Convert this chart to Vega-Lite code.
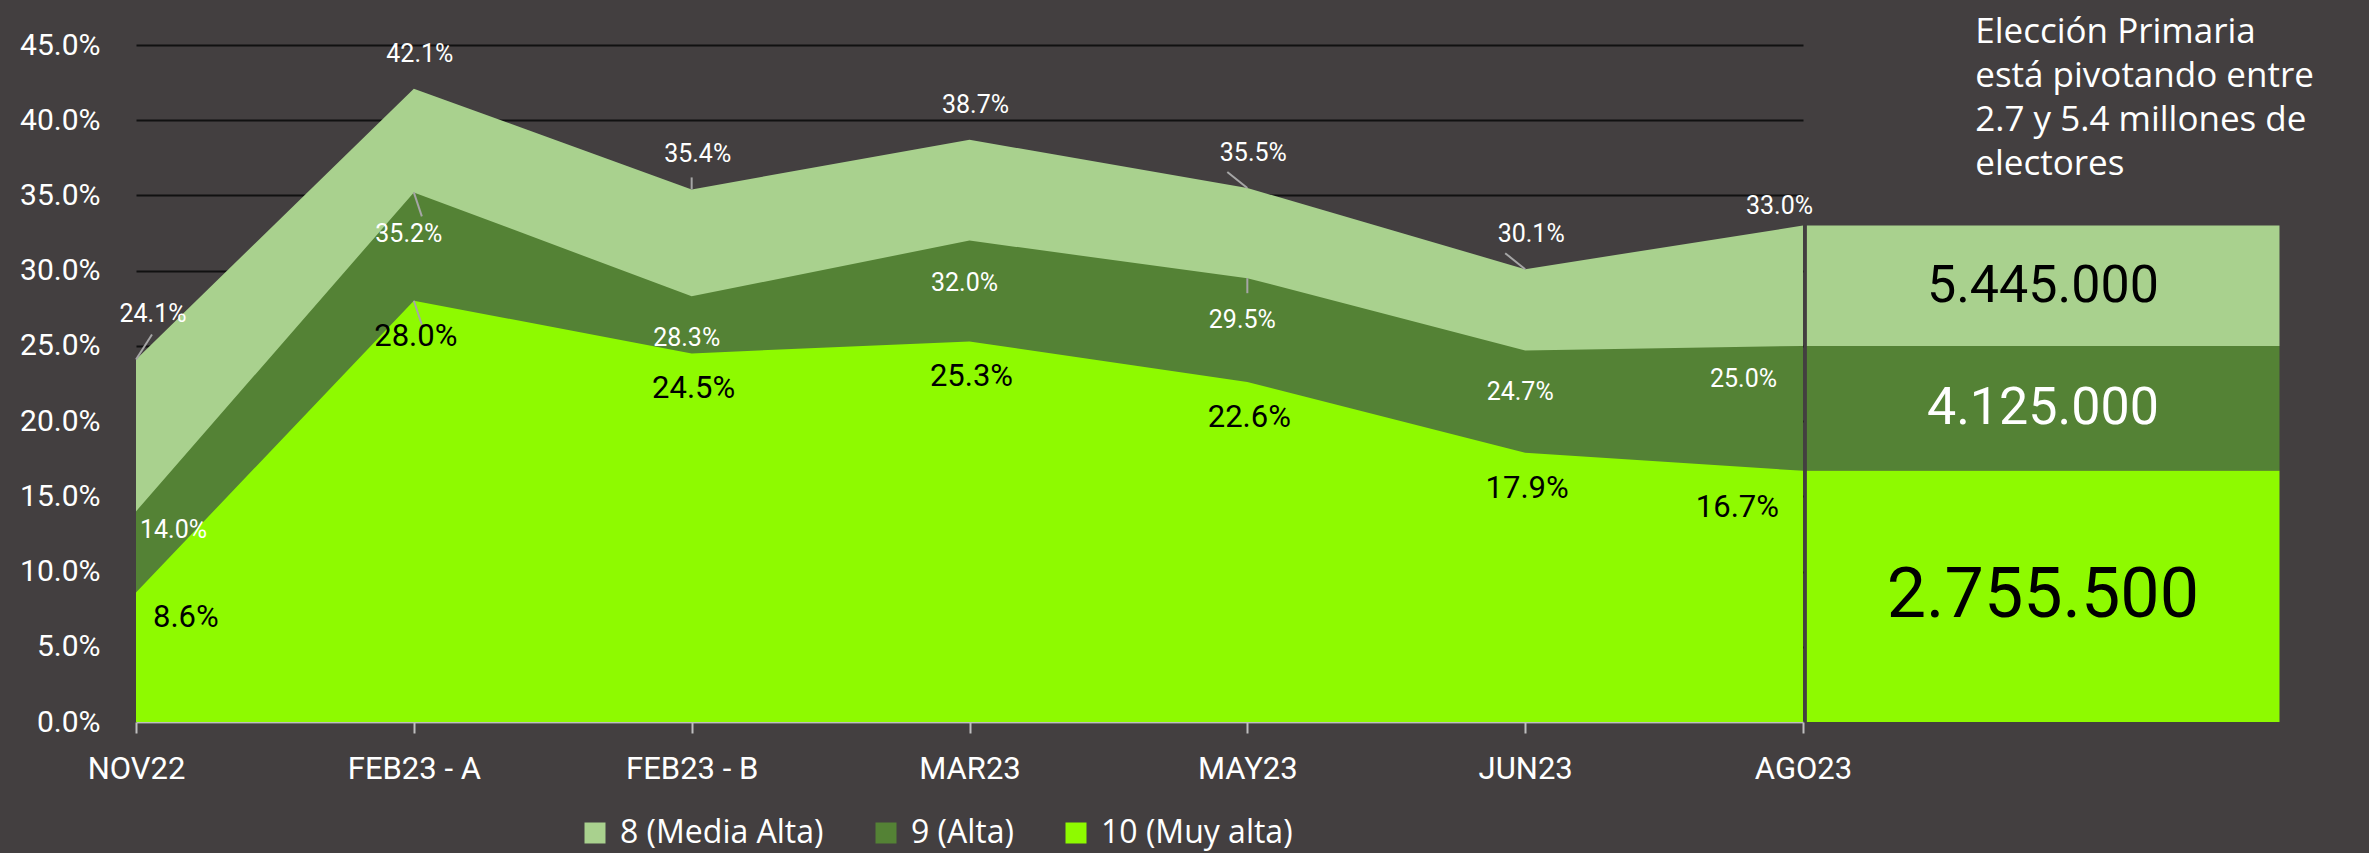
{
  "$schema": "https://vega.github.io/schema/vega-lite/v6.json",
  "autosize": {"type": "none"},
  "width": 1667,
  "height": 677,
  "padding": {"left": 136, "top": 45, "right": 566, "bottom": 131},
  "background": "#433f40",
  "config": {
    "view": {"stroke": null},
    "axisX": {"domainColor": "#bfbfbf", "domainWidth": 2, "tickColor": "#bfbfbf", "tickWidth": 2, "tickSize": 11, "labelFontSize": 31, "labelFont": "Roboto", "labelColor": "#ffffff", "labelPadding": 21, "labelFlush": false, "grid": false},
    "axisY": {"domain": false, "ticks": false, "gridColor": "#111111", "gridWidth": 2, "labelFontSize": 30, "labelFont": "Roboto", "labelColor": "#ffffff", "labelPadding": 36}
  },
  "datasets": {
    "serie": [
      {"mes": "NOV22", "i": 0, "nivel": "8 (Media Alta)", "valor": 0.241},
      {"mes": "FEB23 - A", "i": 1, "nivel": "8 (Media Alta)", "valor": 0.421},
      {"mes": "FEB23 - B", "i": 2, "nivel": "8 (Media Alta)", "valor": 0.354},
      {"mes": "MAR23", "i": 3, "nivel": "8 (Media Alta)", "valor": 0.387},
      {"mes": "MAY23", "i": 4, "nivel": "8 (Media Alta)", "valor": 0.355},
      {"mes": "JUN23", "i": 5, "nivel": "8 (Media Alta)", "valor": 0.301},
      {"mes": "AGO23", "i": 6, "nivel": "8 (Media Alta)", "valor": 0.330},
      {"mes": "NOV22", "i": 0, "nivel": "9 (Alta)", "valor": 0.140},
      {"mes": "FEB23 - A", "i": 1, "nivel": "9 (Alta)", "valor": 0.352},
      {"mes": "FEB23 - B", "i": 2, "nivel": "9 (Alta)", "valor": 0.283},
      {"mes": "MAR23", "i": 3, "nivel": "9 (Alta)", "valor": 0.320},
      {"mes": "MAY23", "i": 4, "nivel": "9 (Alta)", "valor": 0.295},
      {"mes": "JUN23", "i": 5, "nivel": "9 (Alta)", "valor": 0.247},
      {"mes": "AGO23", "i": 6, "nivel": "9 (Alta)", "valor": 0.250},
      {"mes": "NOV22", "i": 0, "nivel": "10 (Muy alta)", "valor": 0.086},
      {"mes": "FEB23 - A", "i": 1, "nivel": "10 (Muy alta)", "valor": 0.280},
      {"mes": "FEB23 - B", "i": 2, "nivel": "10 (Muy alta)", "valor": 0.245},
      {"mes": "MAR23", "i": 3, "nivel": "10 (Muy alta)", "valor": 0.253},
      {"mes": "MAY23", "i": 4, "nivel": "10 (Muy alta)", "valor": 0.226},
      {"mes": "JUN23", "i": 5, "nivel": "10 (Muy alta)", "valor": 0.179},
      {"mes": "AGO23", "i": 6, "nivel": "10 (Muy alta)", "valor": 0.167}
    ],
    "caja": [
      {"nivel": "8 (Media Alta)", "desde": 0.250, "hasta": 0.330, "electores": "5.445.000"},
      {"nivel": "9 (Alta)", "desde": 0.167, "hasta": 0.250, "electores": "4.125.000"},
      {"nivel": "10 (Muy alta)", "desde": 0.0, "hasta": 0.167, "electores": "2.755.500"}
    ]
  },
  "layer": [
    {
      "data": {"name": "serie"},
      "transform": [{"filter": "datum.nivel == '8 (Media Alta)'"}],
      "mark": {"type": "area", "line": false, "clip": false},
      "encoding": {
        "x": {"field": "i", "type": "quantitative", "title": null,
              "scale": {"domain": [0, 6], "nice": false, "zero": false},
              "axis": {"values": [0, 1, 2, 3, 4, 5, 6], "labelExpr": "['NOV22','FEB23 - A','FEB23 - B','MAR23','MAY23','JUN23','AGO23'][datum.value]"}},
        "y": {"field": "valor", "type": "quantitative", "title": null, "stack": null,
              "scale": {"domain": [0, 0.45], "nice": false},
              "axis": {"values": [0, 0.05, 0.1, 0.15, 0.2, 0.25, 0.3, 0.35, 0.4, 0.45], "format": ".1%"}},
        "color": {"field": "nivel", "type": "nominal",
                  "scale": {"domain": ["8 (Media Alta)", "9 (Alta)", "10 (Muy alta)"], "range": ["#a9d18e", "#548235", "#8efa00"]},
                  "legend": {"orient": "none", "legendX": 443, "legendY": 772, "direction": "horizontal", "title": null,
                             "symbolType": "square", "symbolSize": 441, "symbolOpacity": 1, "symbolStrokeWidth": 0,
                             "labelFontSize": 32, "labelFont": "Open Sans", "labelColor": "#ffffff", "labelOffset": 9, "labelLimit": 0, "columnPadding": 46}}
      }
    },
    {
      "data": {"name": "serie"},
      "transform": [{"filter": "datum.nivel == '9 (Alta)'"}],
      "mark": {"type": "area", "line": false, "clip": false},
      "encoding": {
        "x": {"field": "i", "type": "quantitative", "title": null},
        "y": {"field": "valor", "type": "quantitative", "title": null, "stack": null},
        "color": {"field": "nivel", "type": "nominal"}
      }
    },
    {
      "data": {"name": "serie"},
      "transform": [{"filter": "datum.nivel == '10 (Muy alta)'"}],
      "mark": {"type": "area", "line": false, "clip": false},
      "encoding": {
        "x": {"field": "i", "type": "quantitative", "title": null},
        "y": {"field": "valor", "type": "quantitative", "title": null, "stack": null},
        "color": {"field": "nivel", "type": "nominal"}
      }
    },
    {
      "data": {"name": "caja"},
      "mark": {"type": "rect", "clip": false},
      "encoding": {
        "x": {"datum": 6.014, "type": "quantitative"},
        "x2": {"datum": 7.715},
        "y": {"field": "desde", "type": "quantitative", "title": null},
        "y2": {"field": "hasta"},
        "color": {"field": "nivel", "type": "nominal"}
      }
    },
    {
      "data": {"name": "caja"},
      "transform": [{"calculate": "(datum.desde + datum.hasta) / 2", "as": "medio"}],
      "mark": {"type": "text", "font": "Roboto", "baseline": "middle", "align": "center", "clip": false},
      "encoding": {
        "x": {"datum": 6.8635, "type": "quantitative"},
        "y": {"field": "medio", "type": "quantitative", "title": null},
        "text": {"field": "electores"},
        "color": {"condition": {"test": "datum.nivel == '9 (Alta)'", "value": "#ffffff"}, "value": "#000000"},
        "size": {"condition": {"test": "datum.nivel == '10 (Muy alta)'", "value": 70}, "value": 52}
      }
    },
    {
      "data": {"values": [{}]},
      "mark": {"type": "text", "font": "Open Sans", "fontSize": 35, "color": "#ffffff", "align": "left", "baseline": "top", "lineHeight": 44, "clip": false},
      "encoding": {
        "x": {"datum": 6.62, "type": "quantitative"},
        "y": {"datum": 0.47, "type": "quantitative"},
        "text": {"value": ["Elección Primaria", "está pivotando entre", "2.7 y 5.4 millones de", "electores"]}
      }
    },
    {
      "data": {"name": "serie"},
      "transform": [{"filter": "datum.nivel == '8 (Media Alta)' && datum.i == 0"}],
      "mark": {"type": "rule", "color": "#a6a6a6", "strokeWidth": 2, "x2Offset": 16, "y2Offset": -25},
      "encoding": {"x": {"field": "i", "type": "quantitative"}, "x2": {"field": "i"}, "y": {"field": "valor", "type": "quantitative"}, "y2": {"field": "valor"}}
    },
    {
      "data": {"name": "serie"},
      "transform": [{"filter": "datum.nivel == '8 (Media Alta)' && (datum.i == 4 || datum.i == 5)"}],
      "mark": {"type": "rule", "color": "#a6a6a6", "strokeWidth": 2, "x2Offset": -20, "y2Offset": -16},
      "encoding": {"x": {"field": "i", "type": "quantitative"}, "x2": {"field": "i"}, "y": {"field": "valor", "type": "quantitative"}, "y2": {"field": "valor"}}
    },
    {
      "data": {"name": "serie"},
      "transform": [{"filter": "datum.nivel == '8 (Media Alta)' && datum.i == 2"}],
      "mark": {"type": "rule", "color": "#a6a6a6", "strokeWidth": 2, "x2Offset": 0, "y2Offset": -12},
      "encoding": {"x": {"field": "i", "type": "quantitative"}, "x2": {"field": "i"}, "y": {"field": "valor", "type": "quantitative"}, "y2": {"field": "valor"}}
    },
    {
      "data": {"name": "serie"},
      "transform": [{"filter": "datum.nivel != '8 (Media Alta)' && datum.i == 1"}],
      "mark": {"type": "rule", "color": "#a6a6a6", "strokeWidth": 2, "x2Offset": 8, "y2Offset": 24},
      "encoding": {"x": {"field": "i", "type": "quantitative"}, "x2": {"field": "i"}, "y": {"field": "valor", "type": "quantitative"}, "y2": {"field": "valor"}}
    },
    {
      "data": {"name": "serie"},
      "transform": [{"filter": "datum.nivel == '9 (Alta)' && datum.i == 4"}],
      "mark": {"type": "rule", "color": "#a6a6a6", "strokeWidth": 2, "x2Offset": 0, "y2Offset": 15},
      "encoding": {"x": {"field": "i", "type": "quantitative"}, "x2": {"field": "i"}, "y": {"field": "valor", "type": "quantitative"}, "y2": {"field": "valor"}}
    },
    {
      "data": {"name": "serie"},
      "transform": [{"filter": "datum.nivel == '8 (Media Alta)' && datum.i > 0 && datum.i < 6"}],
      "mark": {"type": "text", "font": "Roboto", "fontSize": 25, "color": "#ffffff", "align": "center", "baseline": "middle", "dx": 6, "dy": -35},
      "encoding": {"x": {"field": "i", "type": "quantitative"}, "y": {"field": "valor", "type": "quantitative"}, "text": {"field": "valor", "type": "quantitative", "format": ".1%"}}
    },
    {
      "data": {"name": "serie"},
      "transform": [{"filter": "datum.nivel == '8 (Media Alta)' && datum.i == 0"}],
      "mark": {"type": "text", "font": "Roboto", "fontSize": 25, "color": "#ffffff", "align": "center", "baseline": "middle", "dx": 17, "dy": -45},
      "encoding": {"x": {"field": "i", "type": "quantitative"}, "y": {"field": "valor", "type": "quantitative"}, "text": {"field": "valor", "type": "quantitative", "format": ".1%"}}
    },
    {
      "data": {"name": "serie"},
      "transform": [{"filter": "datum.nivel == '8 (Media Alta)' && datum.i == 6"}],
      "mark": {"type": "text", "font": "Roboto", "fontSize": 25, "color": "#ffffff", "align": "right", "baseline": "middle", "dx": 10, "dy": -20},
      "encoding": {"x": {"field": "i", "type": "quantitative"}, "y": {"field": "valor", "type": "quantitative"}, "text": {"field": "valor", "type": "quantitative", "format": ".1%"}}
    },
    {
      "data": {"name": "serie"},
      "transform": [{"filter": "datum.nivel == '9 (Alta)' && datum.i > 0 && datum.i < 6"}],
      "mark": {"type": "text", "font": "Roboto", "fontSize": 25, "color": "#ffffff", "align": "center", "baseline": "middle", "dx": -5, "dy": 42},
      "encoding": {"x": {"field": "i", "type": "quantitative"}, "y": {"field": "valor", "type": "quantitative"}, "text": {"field": "valor", "type": "quantitative", "format": ".1%"}}
    },
    {
      "data": {"name": "serie"},
      "transform": [{"filter": "datum.nivel == '9 (Alta)' && datum.i == 0"}],
      "mark": {"type": "text", "font": "Roboto", "fontSize": 25, "color": "#ffffff", "align": "left", "baseline": "middle", "dx": 4, "dy": 19},
      "encoding": {"x": {"field": "i", "type": "quantitative"}, "y": {"field": "valor", "type": "quantitative"}, "text": {"field": "valor", "type": "quantitative", "format": ".1%"}}
    },
    {
      "data": {"name": "serie"},
      "transform": [{"filter": "datum.nivel == '9 (Alta)' && datum.i == 6"}],
      "mark": {"type": "text", "font": "Roboto", "fontSize": 25, "color": "#ffffff", "align": "right", "baseline": "middle", "dx": -26, "dy": 33},
      "encoding": {"x": {"field": "i", "type": "quantitative"}, "y": {"field": "valor", "type": "quantitative"}, "text": {"field": "valor", "type": "quantitative", "format": ".1%"}}
    },
    {
      "data": {"name": "serie"},
      "transform": [{"filter": "datum.nivel == '10 (Muy alta)' && datum.i > 0 && datum.i < 6"}],
      "mark": {"type": "text", "font": "Roboto", "fontSize": 31, "color": "#000000", "align": "center", "baseline": "middle", "dx": 2, "dy": 36},
      "encoding": {"x": {"field": "i", "type": "quantitative"}, "y": {"field": "valor", "type": "quantitative"}, "text": {"field": "valor", "type": "quantitative", "format": ".1%"}}
    },
    {
      "data": {"name": "serie"},
      "transform": [{"filter": "datum.nivel == '10 (Muy alta)' && datum.i == 0"}],
      "mark": {"type": "text", "font": "Roboto", "fontSize": 31, "color": "#000000", "align": "left", "baseline": "middle", "dx": 17, "dy": 25},
      "encoding": {"x": {"field": "i", "type": "quantitative"}, "y": {"field": "valor", "type": "quantitative"}, "text": {"field": "valor", "type": "quantitative", "format": ".1%"}}
    },
    {
      "data": {"name": "serie"},
      "transform": [{"filter": "datum.nivel == '10 (Muy alta)' && datum.i == 6"}],
      "mark": {"type": "text", "font": "Roboto", "fontSize": 31, "color": "#000000", "align": "right", "baseline": "middle", "dx": -24, "dy": 37},
      "encoding": {"x": {"field": "i", "type": "quantitative"}, "y": {"field": "valor", "type": "quantitative"}, "text": {"field": "valor", "type": "quantitative", "format": ".1%"}}
    }
  ]
}
